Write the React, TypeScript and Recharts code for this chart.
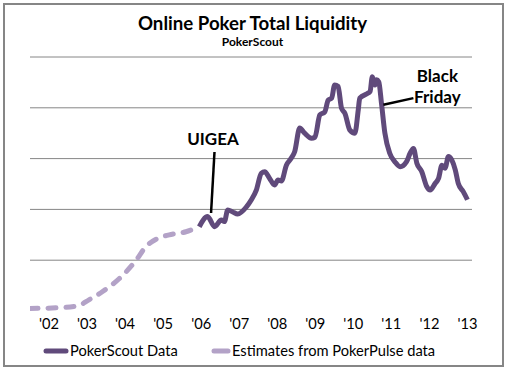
import {
  LineChart,
  Line,
  XAxis,
  YAxis,
  Legend,
  ReferenceLine,
  ReferenceDot,
} from "recharts";

// PokerPulse estimates (dashed), year vs liquidity (arbitrary units)
const estYears = [2002.0, 2002.76, 2003.25, 2003.55, 2003.9, 2004.35, 2004.79, 2005.05, 2005.31, 2005.66, 2006.1, 2006.45];
const estValues = [0.5, 0.65, 1.0, 2.2, 3.8, 6.4, 10.0, 12.7, 14.1, 15.0, 15.6, 16.6];

// PokerScout data (solid)
const scoutYears = [
  2006.45, 2006.67, 2006.85, 2007.03, 2007.11, 2007.2, 2007.33, 2007.46, 2007.69, 2007.82,
  2007.95, 2008.08, 2008.17, 2008.3, 2008.43, 2008.52, 2008.61, 2008.74, 2008.87, 2008.96,
  2009.09, 2009.22, 2009.4, 2009.49, 2009.62, 2009.75, 2009.84, 2009.93, 2010.01, 2010.1,
  2010.19, 2010.28, 2010.41, 2010.54, 2010.63, 2010.67, 2010.89, 2010.94, 2011.0, 2011.07,
  2011.11, 2011.17, 2011.24, 2011.33, 2011.46, 2011.59, 2011.73, 2011.9, 2011.99, 2012.08,
  2012.17, 2012.3, 2012.43, 2012.52, 2012.65, 2012.74, 2012.83, 2012.91, 2013.0, 2013.09,
  2013.18, 2013.26, 2013.39, 2013.5,
];
const scoutValues = [
  16.6, 18.6, 16.6, 17.9, 17.6, 19.9, 19.5, 19.1, 20.5, 21.9,
  23.8, 27.1, 27.4, 26.1, 24.8, 25.8, 25.6, 28.7, 30.1, 31.4,
  36.0, 35.0, 34.0, 34.2, 38.6, 39.2, 41.5, 41.9, 44.5, 44.2,
  39.9, 38.9, 35.6, 35.0, 39.6, 41.9, 42.9, 43.2, 46.1, 44.5,
  45.5, 45.1, 40.9, 35.0, 31.0, 29.4, 28.4, 29.4, 31.0, 32.0,
  29.1, 27.4, 24.5, 23.8, 25.1, 26.1, 28.7, 28.1, 30.4, 29.7,
  27.8, 25.1, 23.5, 21.9,
];

const yearTicks = [2002, 2003, 2004, 2005, 2006, 2007, 2008, 2009, 2010, 2011, 2012, 2013];
const yTicks = [10, 20, 30, 40, 50];

const estData = estYears.map((year, i) => ({ year, value: estValues[i] }));
const scoutData = scoutYears.map((year, i) => ({ year, value: scoutValues[i] }));

const DARK = "#604A7B";
const LIGHT = "#B3A2C7";
const GRID = "#868686";
const FONT = "Lato, 'Open Sans', sans-serif";

const renderLegend = () => (
  <div style={{ height: 20, position: "relative", fontFamily: FONT, fontSize: 14.67, color: "#000" }}>
    <svg width={30} height={20} style={{ position: "absolute", left: 42, top: 0 }}>
      <line x1={4} y1={10} x2={24} y2={10} stroke={DARK} strokeWidth={5} strokeLinecap="round" />
    </svg>
    <span style={{ position: "absolute", left: 70, top: 1, lineHeight: "18px" }}>PokerScout Data</span>
    <svg width={30} height={20} style={{ position: "absolute", left: 210, top: 0 }}>
      <line x1={4} y1={10} x2={18} y2={10} stroke={LIGHT} strokeWidth={5} strokeLinecap="round" />
    </svg>
    <span style={{ position: "absolute", left: 232, top: 1, lineHeight: "18px" }}>
      Estimates from PokerPulse data
    </span>
  </div>
);

const annotLabel = (text: string, size: number) => (props: any) => {
  const vb = props.viewBox || {};
  return (
    <text
      x={vb.x + (vb.width || 0) / 2}
      y={vb.y + (vb.height || 0) / 2}
      textAnchor="middle"
      dominantBaseline="central"
      fontFamily={FONT}
      fontSize={size}
      fontWeight="bold"
      fill="#000"
    >
      {text}
    </text>
  );
};

export default function App() {
  return (
    <div style={{ position: "absolute", left: 0, top: 0, width: 505, height: 369, background: "#fff" }}>
      <div
        style={{
          position: "absolute",
          left: 3,
          top: 3,
          width: 497,
          height: 360,
          border: `2px solid ${GRID}`,
        }}
      />
      <div
        style={{
          position: "absolute",
          left: 0,
          top: 11,
          width: 505,
          textAlign: "center",
          fontFamily: FONT,
          fontWeight: "bold",
          fontSize: 18.67,
          lineHeight: "24px",
        }}
      >
        Online Poker Total Liquidity
      </div>
      <div
        style={{
          position: "absolute",
          left: 0,
          top: 34,
          width: 505,
          textAlign: "center",
          fontFamily: FONT,
          fontWeight: "bold",
          fontSize: 12,
          lineHeight: "15px",
        }}
      >
        PokerScout
      </div>
      <LineChart
        width={505}
        height={369}
        margin={{ top: 57, right: 33, left: 30, bottom: 16 }}
        style={{ position: "absolute", left: 0, top: 0 }}
      >
        <XAxis
          xAxisId="main"
          dataKey="year"
          type="number"
          domain={[2002, 2013.62]}
          ticks={yearTicks}
          height={0}
          tick={() => <g />}
          tickSize={4}
          tickLine={{ stroke: GRID }}
          axisLine={{ stroke: GRID }}
          allowDataOverflow
        />
        <XAxis
          xAxisId="labels"
          dataKey="year"
          type="number"
          domain={[2002, 2013.62]}
          ticks={yearTicks.map((y) => y + 0.5)}
          tickFormatter={(y: number) => "'" + String(Math.floor(y)).slice(2)}
          height={22}
          tickSize={0}
          tickMargin={8}
          tickLine={false}
          axisLine={false}
          tick={{ fill: "#000", fontSize: 14.67, fontFamily: FONT }}
          allowDataOverflow
        />
        <YAxis
          domain={[0, 50]}
          width={0}
          tick={false}
          tickLine={false}
          axisLine={{ stroke: GRID }}
        />
        {yTicks.map((v) => (
          <ReferenceLine key={v} xAxisId="main" y={v} stroke={GRID} strokeWidth={1} />
        ))}
        <Legend
          verticalAlign="bottom"
          content={renderLegend}
          wrapperStyle={{ left: 0, top: 341, width: 505 }}
        />
        <Line
          xAxisId="main"
          data={estData}
          dataKey="value"
          name="Estimates from PokerPulse data"
          type="monotone"
          stroke={LIGHT}
          strokeWidth={5}
          strokeDasharray="8 10"
          strokeLinecap="round"
          dot={false}
          isAnimationActive={false}
        />
        <Line
          xAxisId="main"
          data={scoutData}
          dataKey="value"
          name="PokerScout Data"
          type="monotone"
          stroke={DARK}
          strokeWidth={5}
          strokeLinejoin="round"
          dot={false}
          isAnimationActive={false}
        />
        <ReferenceLine
          xAxisId="main"
          segment={[{ x: 2006.85, y: 31.3 }, { x: 2006.76, y: 19.3 }]}
          stroke="#000"
          strokeWidth={2.5}
        />
        <ReferenceLine
          xAxisId="main"
          segment={[{ x: 2011.29, y: 40.6 }, { x: 2012.08, y: 41.9 }]}
          stroke="#000"
          strokeWidth={2.5}
        />
        <ReferenceDot xAxisId="main" x={2006.81} y={33.9} r={0} stroke="none" fill="none" label={annotLabel("UIGEA", 17)} />
        <ReferenceDot xAxisId="main" x={2012.71} y={46.3} r={0} stroke="none" fill="none" label={annotLabel("Black", 17)} />
        <ReferenceDot xAxisId="main" x={2012.71} y={42.2} r={0} stroke="none" fill="none" label={annotLabel("Friday", 17)} />
      </LineChart>
    </div>
  );
}
